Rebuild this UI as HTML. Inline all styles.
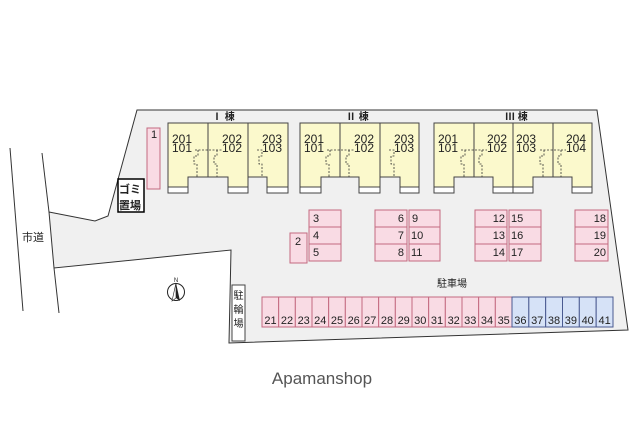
<!DOCTYPE html>
<html><head><meta charset="utf-8"><style>
html,body{margin:0;padding:0;background:#fff;width:640px;height:427px;overflow:hidden}
svg{display:block}
text{font-family:"Liberation Sans","Noto Sans CJK JP",sans-serif;fill:#222}
</style></head><body>
<svg width="640" height="427" viewBox="0 0 640 427" xmlns="http://www.w3.org/2000/svg">
<g stroke="#333" stroke-width="1" fill="none">
<line x1="10" y1="148" x2="23" y2="311"/>
<line x1="42" y1="153" x2="49" y2="212"/>
<line x1="54" y1="268" x2="59" y2="313"/>
</g>
<polygon points="49,212 95,221 108,216 137,110 597,110 628,330 229,343 231,250 54,268" fill="#f0f0f0" stroke="#333" stroke-width="1"/>
<text x="22" y="241" font-size="11">市道</text>

<g stroke="#444" stroke-width="1">
<rect x="168" y="123" width="120" height="64" fill="#fbf9cc"/>
<rect x="168" y="187" width="20" height="6" fill="#fff"/>
<rect x="228" y="187" width="20" height="6" fill="#fff"/>
<rect x="267" y="187" width="21" height="6" fill="#fff"/>
<rect x="300" y="123" width="119" height="64" fill="#fbf9cc"/>
<rect x="300" y="187" width="21" height="6" fill="#fff"/>
<rect x="359" y="187" width="21" height="6" fill="#fff"/>
<rect x="400" y="187" width="19" height="6" fill="#fff"/>
<rect x="434" y="123" width="158" height="64" fill="#fbf9cc"/>
<rect x="434" y="187" width="20" height="6" fill="#fff"/>
<rect x="493" y="187" width="40" height="6" fill="#fff"/>
<rect x="572" y="187" width="20" height="6" fill="#fff"/>
</g>
<g fill="#f0f0f0" stroke="none">
<rect x="188.5" y="177.5" width="39" height="16.5"/>
<rect x="248.5" y="177.5" width="18" height="16.5"/>
<rect x="321.5" y="177.5" width="37" height="16.5"/>
<rect x="380.5" y="177.5" width="19" height="16.5"/>
<rect x="454.5" y="177.5" width="38" height="16.5"/>
<rect x="533.5" y="177.5" width="38" height="16.5"/>
</g>
<g stroke="#444" stroke-width="1" fill="none">
<polyline points="188,193 188,177 228,177 228,193"/>
<polyline points="248,193 248,177 267,177 267,193"/>
<polyline points="321,193 321,177 359,177 359,193"/>
<polyline points="380,193 380,177 400,177 400,193"/>
<polyline points="454,193 454,177 493,177 493,193"/>
<polyline points="533,193 533,177 572,177 572,193"/>
<line x1="208" y1="123" x2="208" y2="177"/><line x1="248" y1="123" x2="248" y2="177"/>
<line x1="340" y1="123" x2="340" y2="177"/><line x1="380" y1="123" x2="380" y2="177"/>
<line x1="474" y1="123" x2="474" y2="177"/><line x1="513" y1="123" x2="513" y2="193"/><line x1="553" y1="123" x2="553" y2="177"/>
</g>
<g stroke="#333" stroke-width="0.8" fill="none" stroke-dasharray="2,1.5">
<path d="M195,150 H222 M198,150 v6 h-4 v8 h3 v13 M217,150 v6 h-3 v8 h3 v13"/>
<path d="M257,150 H262 v6 h-3 v8 h3 v13"/>
<path d="M327,150 H354 M330,150 v6 h-4 v8 h3 v13 M349,150 v6 h-3 v8 h3 v13"/>
<path d="M389,150 H394 v6 h-3 v8 h3 v13"/>
<path d="M461,150 H487 M465,150 v6 h-4 v8 h3 v13 M482,150 v6 h-3 v8 h3 v13"/>
<path d="M540,150 H566 M544,150 v6 h-4 v8 h3 v13 M561,150 v6 h-3 v8 h3 v13"/>
</g>
<g font-size="12">
<text x="172" y="143">201</text><text x="172" y="152">101</text>
<text x="222" y="143">202</text><text x="222" y="152">102</text>
<text x="262" y="143">203</text><text x="262" y="152">103</text>
<text x="304" y="143">201</text><text x="304" y="152">101</text>
<text x="354" y="143">202</text><text x="354" y="152">102</text>
<text x="394" y="143">203</text><text x="394" y="152">103</text>
<text x="438" y="143">201</text><text x="438" y="152">101</text>
<text x="487" y="143">202</text><text x="487" y="152">102</text>
<text x="516" y="143">203</text><text x="516" y="152">103</text>
<text x="566" y="143">204</text><text x="566" y="152">104</text>
</g>
<g font-size="10" font-weight="bold">
<text x="212" y="120">Ⅰ 棟</text>
<text x="346" y="120">Ⅱ 棟</text>
<text x="505" y="120">Ⅲ 棟</text>
</g>

<rect x="118" y="179" width="26" height="33" fill="#fff" stroke="#000" stroke-width="1.5"/>
<text x="119" y="193" font-size="11" font-weight="bold">ゴミ</text>
<text x="119" y="209" font-size="11" font-weight="bold">置場</text>

<g fill="#f9dbe4" stroke="#c46a80" stroke-width="1">
<rect x="147" y="128" width="13" height="61"/>
<rect x="290" y="233" width="17" height="30"/>
<rect x="309" y="210" width="32" height="17"/><rect x="309" y="227" width="32" height="17"/><rect x="309" y="244" width="32" height="17"/>
<rect x="375" y="210" width="32" height="17"/><rect x="375" y="227" width="32" height="17"/><rect x="375" y="244" width="32" height="17"/>
<rect x="409" y="210" width="31" height="17"/><rect x="409" y="227" width="31" height="17"/><rect x="409" y="244" width="31" height="17"/>
<rect x="475" y="210" width="32" height="17"/><rect x="475" y="227" width="32" height="17"/><rect x="475" y="244" width="32" height="17"/>
<rect x="509" y="210" width="32" height="17"/><rect x="509" y="227" width="32" height="17"/><rect x="509" y="244" width="32" height="17"/>
<rect x="575" y="210" width="33" height="17"/><rect x="575" y="227" width="33" height="17"/><rect x="575" y="244" width="33" height="17"/>
</g>
<g font-size="11">
<text x="151" y="138">1</text>
<text x="295" y="245">2</text>
<text x="313" y="222">3</text><text x="313" y="239">4</text><text x="313" y="256">5</text>
<text x="404" y="222" text-anchor="end">6</text><text x="404" y="239" text-anchor="end">7</text><text x="404" y="256" text-anchor="end">8</text>
<text x="412" y="222">9</text><text x="411" y="239">10</text><text x="411" y="256">11</text>
<text x="505" y="222" text-anchor="end">12</text><text x="505" y="239" text-anchor="end">13</text><text x="505" y="256" text-anchor="end">14</text>
<text x="511" y="222">15</text><text x="511" y="239">16</text><text x="511" y="256">17</text>
<text x="606" y="222" text-anchor="end">18</text><text x="606" y="239" text-anchor="end">19</text><text x="606" y="256" text-anchor="end">20</text>
</g>

<g stroke-width="1">
<g fill="#f9dbe4" stroke="#c46a80">
<rect x="262" y="297" width="16.67" height="30"/><rect x="278.67" y="297" width="16.67" height="30"/><rect x="295.33" y="297" width="16.67" height="30"/><rect x="312" y="297" width="16.67" height="30"/><rect x="328.67" y="297" width="16.67" height="30"/><rect x="345.33" y="297" width="16.67" height="30"/><rect x="362" y="297" width="16.67" height="30"/><rect x="378.67" y="297" width="16.67" height="30"/><rect x="395.33" y="297" width="16.67" height="30"/><rect x="412" y="297" width="16.67" height="30"/><rect x="428.67" y="297" width="16.67" height="30"/><rect x="445.33" y="297" width="16.67" height="30"/><rect x="462" y="297" width="16.67" height="30"/><rect x="478.67" y="297" width="16.67" height="30"/><rect x="495.33" y="297" width="16.67" height="30"/>
</g>
<g fill="#d6e2f7" stroke="#4a5a90">
<rect x="512" y="297" width="16.83" height="30"/><rect x="528.83" y="297" width="16.83" height="30"/><rect x="545.67" y="297" width="16.83" height="30"/><rect x="562.5" y="297" width="16.83" height="30"/><rect x="579.33" y="297" width="16.83" height="30"/><rect x="596.17" y="297" width="16.83" height="30"/>
</g>
</g>
<g font-size="11" text-anchor="middle">
<text x="270.5" y="324">21</text><text x="287" y="324">22</text><text x="303.7" y="324">23</text><text x="320.3" y="324">24</text><text x="337" y="324">25</text><text x="353.7" y="324">26</text><text x="370.3" y="324">27</text><text x="387" y="324">28</text><text x="403.7" y="324">29</text><text x="420.3" y="324">30</text><text x="437" y="324">31</text><text x="453.7" y="324">32</text><text x="470.3" y="324">33</text><text x="487" y="324">34</text><text x="503.7" y="324">35</text>
<text x="520.4" y="324">36</text><text x="537.2" y="324">37</text><text x="554" y="324">38</text><text x="570.9" y="324">39</text><text x="587.7" y="324">40</text><text x="604.6" y="324">41</text>
</g>
<text x="452" y="287" font-size="10" text-anchor="middle">駐車場</text>

<rect x="232" y="285" width="13" height="56" fill="#fff" stroke="#444"/>
<g font-size="10" text-anchor="middle"><text x="238.5" y="299">駐</text><text x="238.5" y="313">輪</text><text x="238.5" y="327">場</text></g>

<circle cx="176" cy="292" r="8.5" fill="#fff" stroke="#222" stroke-width="1"/>
<polygon points="176,283 172,301 176,298" fill="#fff" stroke="#222" stroke-width="0.6"/>
<polygon points="176,283 180,301 176,298" fill="#222"/>
<text x="176" y="282" font-size="6" text-anchor="middle">N</text>

<text x="322" y="384" font-size="17" text-anchor="middle" style="fill:#555">Apamanshop</text>
</svg>
</body></html>
